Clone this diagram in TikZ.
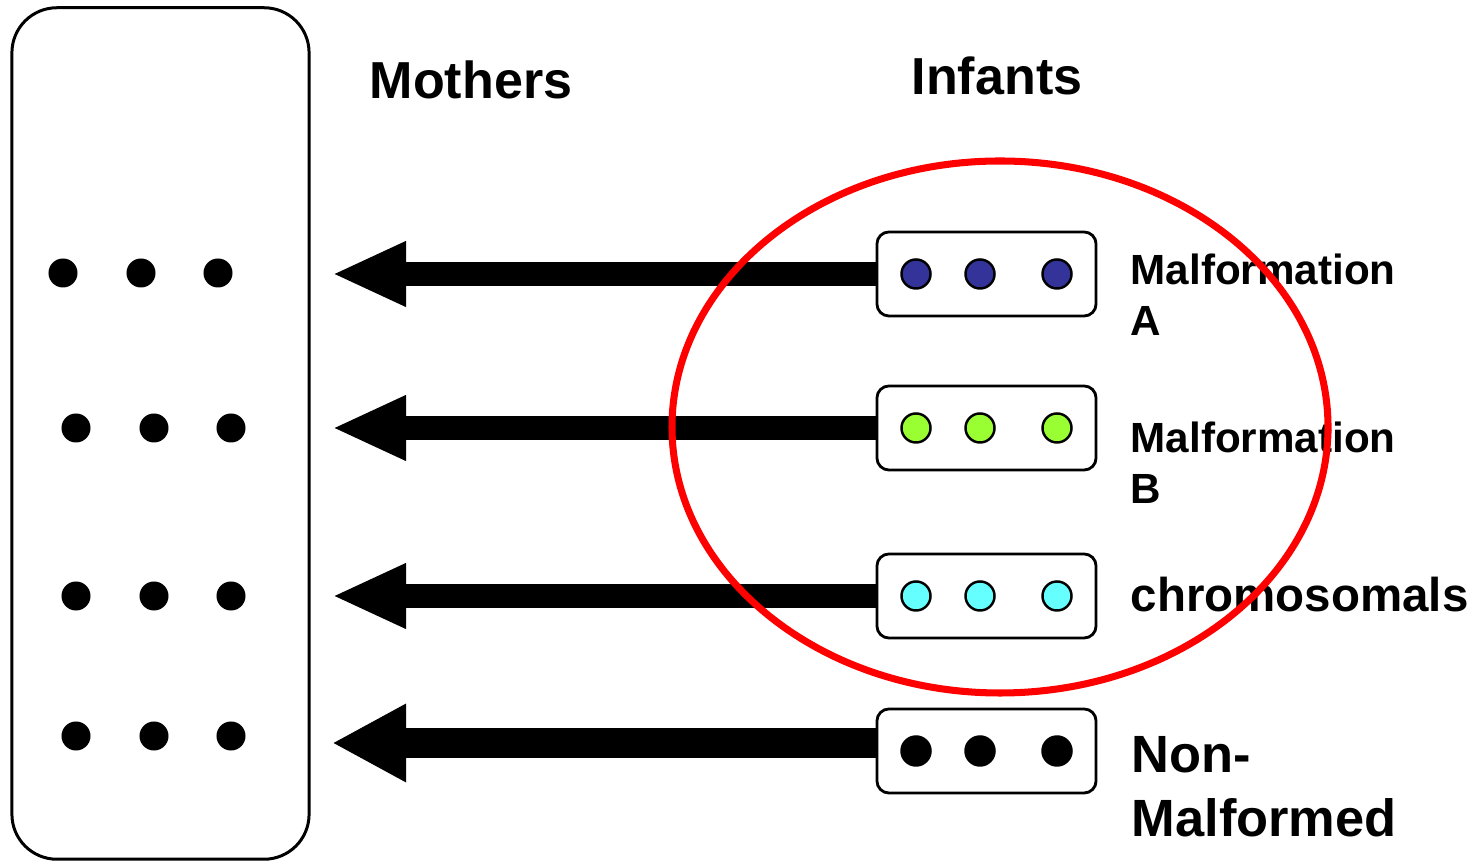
\documentclass[tikz,border=0pt]{standalone}
\usepackage{fontspec}
\setmainfont{Liberation Sans}
\usetikzlibrary{arrows.meta}
\definecolor{dotblue}{HTML}{333399}
\definecolor{dotgreen}{HTML}{99FF33}
\definecolor{dotcyan}{HTML}{66FFFF}
\begin{document}
\begin{tikzpicture}[x=0.01cm,y=-0.01cm,
  bigbox/.style={draw,line width=0.85pt,rounded corners=4.5mm,minimum width=2.97cm,minimum height=8.51cm,inner sep=0pt},
  inbox/.style={draw,line width=0.8pt,rounded corners=1.2mm,minimum width=2.19cm,minimum height=0.84cm,inner sep=0pt},
  mdot/.style={circle,fill=black,minimum width=2.9mm,inner sep=0pt},
  idot/.style={circle,draw,line width=0.7pt,minimum size=2.9mm,inner sep=0pt},
  fatarrow/.style={line width=2.4mm,-{Triangle[length=7.4mm,width=6mm]}},
  fatarrowb/.style={line width=2.9mm,-{Triangle[length=7.4mm,width=7.3mm]}},
  title/.style={font=\fontsize{14.8}{18}\selectfont\bfseries,inner sep=0pt,anchor=base},
  lab/.style={font=\fontsize{12}{14.5}\selectfont\bfseries,inner sep=0pt,anchor=base west,align=left},
  labbig/.style={font=\fontsize{14.9}{18.2}\selectfont\bfseries,inner sep=0pt,anchor=base west,align=left}
]
\useasboundingbox (0,0) rectangle (1476,862);
\node[bigbox] (mothers) at (160.5,433.5) {};
\node[title] (tm) at (471,99) {Mothers};
\node[title] (ti) at (997,95) {Infants};
% mothers dots
\node[mdot] (m11) at (63,273) {};
\node[mdot] (m12) at (141,273) {};
\node[mdot] (m13) at (218,273) {};
\foreach \r/\y in {2/428,3/596,4/736}{
  \node[mdot] (m\r1) at (76,\y) {};
  \node[mdot] (m\r2) at (154,\y) {};
  \node[mdot] (m\r3) at (231,\y) {};
}
% infant boxes
\node[inbox] (b1) at (986.5,274) {};
\node[inbox] (b2) at (986.5,428) {};
\node[inbox] (b3) at (986.5,596) {};
\node[inbox] (b4) at (986.5,751) {};
\foreach \b/\c in {1/dotblue,2/dotgreen,3/dotcyan,4/black}{
  \node[idot,fill=\c] (d\b1) at (916,0 |- b\b) {};
  \node[idot,fill=\c] (d\b2) at (980,0 |- b\b) {};
  \node[idot,fill=\c] (d\b3) at (1057,0 |- b\b) {};
}
% arrow tips
\coordinate (t1) at (332,274);
\coordinate (t2) at (332,428);
\coordinate (t3) at (332,596);
\coordinate (t4) at (332,743);
\draw[fatarrow] (b1.west) -- (t1);
\draw[fatarrow] (b2.west) -- (t2);
\draw[fatarrow] (b3.west) -- (t3);
\draw[fatarrowb] (b4.west |- t4) -- (t4);
% labels
\node[lab] (la) at (1130,336) {Malformation\\A};
\node[lab] (lb) at (1130,504) {Malformation\\B};
\node[lab,font=\fontsize{13.5}{16}\selectfont\bfseries] (lc) at (1130,612) {chromosomals};
\node[labbig] (ln) at (1131,837) {Non-\\Malformed};
% red ellipse
\draw[red,line width=2pt] (1000,427) ellipse [x radius=328, y radius=266];
\end{tikzpicture}
\end{document}
